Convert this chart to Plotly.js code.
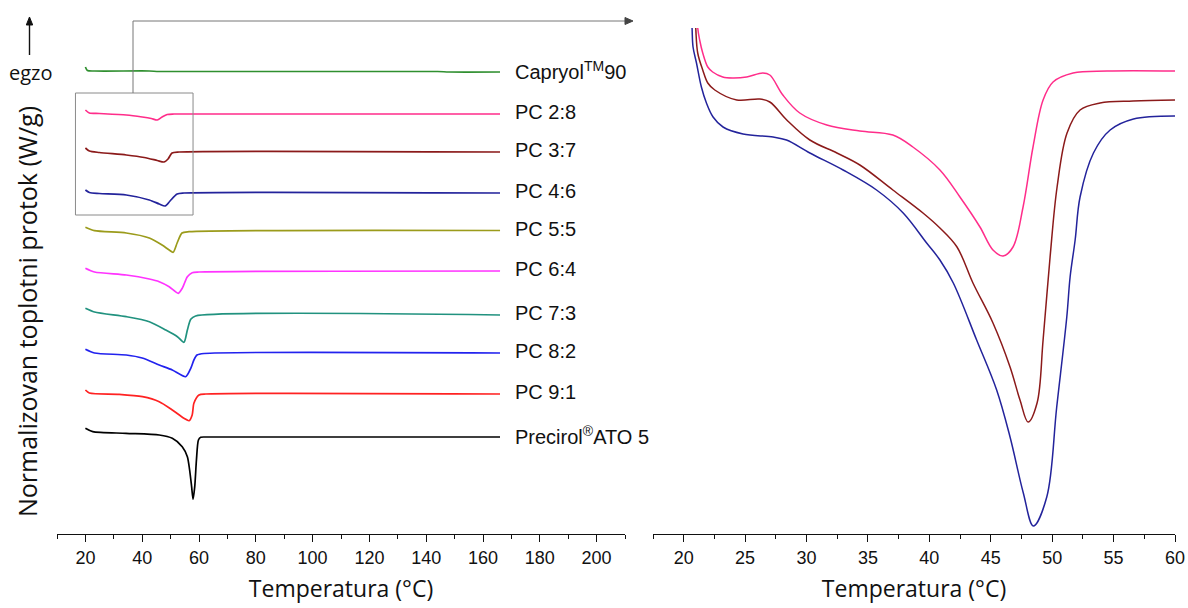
<!DOCTYPE html>
<html>
<head>
<meta charset="utf-8">
<script src="https://cdn.plot.ly/plotly-3.0.1.min.js"></script>
<style>
html,body{margin:0;padding:0;background:#fff;}
#chart{width:1188px;height:608px;}
</style>
</head>
<body>
<div id="chart"></div>
<script>
// ---------- Data (left panel: full DSC curves, stacked) ----------
const sampleNames = ['Capryol<sup>TM</sup>90','PC 2:8','PC 3:7','PC 4:6','PC 5:5','PC 6:4','PC 7:3','PC 8:2','PC 9:1','Precirol<sup>®</sup>ATO 5'];
const sampleColors = ['#2f8f2f','#ff2d8a','#8b1a1a','#23239b','#9b9b1b','#ff33ff','#21927f','#2222ee','#ff2222','#000000'];

const capryolT  = [20, 20.7, 23.2, 42.5, 46, 144, 148, 166];
const capryolHF = [4.67, 4.635, 4.63, 4.63, 4.625, 4.625, 4.62, 4.62];

const pc28T  = [20, 21.4, 24.9, 34.4, 40.0, 43.2, 45.3, 47.0, 48.8, 51.2, 166];
const pc28HF = [4.24, 4.21, 4.205, 4.19, 4.17, 4.155, 4.14, 4.17, 4.195, 4.20, 4.20];

const pc37T  = [20, 21.4, 24.9, 34.4, 40.7, 45.3, 47.7, 49.1, 50.5, 53.0, 166];
const pc37HF = [3.86, 3.83, 3.815, 3.79, 3.765, 3.735, 3.72, 3.75, 3.81, 3.82, 3.82];

const pc46T  = [20, 21.4, 24.9, 34.4, 42.5, 46.0, 48.1, 49.8, 52.3, 54.7, 166];
const pc46HF = [3.44, 3.415, 3.405, 3.39, 3.34, 3.30, 3.28, 3.33, 3.40, 3.41, 3.41];

const pc55T  = [20, 23.2, 34.4, 42.5, 47.0, 49.5, 50.9, 52.3, 54.0, 56.5, 166];
const pc55HF = [3.067, 3.033, 3.01, 2.96, 2.89, 2.84, 2.817, 2.91, 3.01, 3.023, 3.035];

const pc64T  = [20, 23.2, 34.4, 42.5, 46.0, 49.5, 52.7, 54.1, 55.9, 57.6, 60.0, 166];
const pc64HF = [2.657, 2.62, 2.59, 2.55, 2.523, 2.473, 2.407, 2.457, 2.573, 2.613, 2.62, 2.63];

const pc73T  = [20, 23.2, 34.4, 42.5, 48.3, 52.4, 54.7, 55.9, 57.1, 58.8, 166];
const pc73HF = [2.257, 2.22, 2.173, 2.123, 2.04, 1.973, 1.917, 2.04, 2.147, 2.18, 2.19];

const pc82T  = [20, 23.2, 34.4, 40.0, 46.0, 50.6, 55.3, 57.1, 58.2, 59.3, 61.8, 166];
const pc82HF = [1.847, 1.81, 1.79, 1.76, 1.69, 1.64, 1.573, 1.657, 1.74, 1.79, 1.805, 1.81];

const pc91T  = [20, 21.4, 31.9, 40.1, 46.0, 50.6, 54.7, 56.5, 57.6, 58.2, 60.0, 62.4, 166];
const pc91HF = [1.44, 1.41, 1.397, 1.373, 1.323, 1.24, 1.157, 1.133, 1.19, 1.307, 1.39, 1.40, 1.40];

const precirolT  = [20, 22.6, 34.3, 46.0, 50.6, 54.1, 55.9, 56.7, 57.4, 57.9, 58.5, 59.1, 59.8, 60.6, 62.4, 166];
const precirolHF = [1.057, 1.023, 1.007, 0.99, 0.957, 0.873, 0.773, 0.64, 0.473, 0.347, 0.473, 0.74, 0.94, 0.967, 0.97, 0.97];

// ---------- Data (right panel: zoom of PC 2:8, PC 3:7, PC 4:6) ----------
const zoomNames  = ['PC 2:8','PC 3:7','PC 4:6'];
const zoomColors = ['#ff2d8a','#8b1a1a','#23239b'];

const zoomPc28T  = [20.94,21.14,21.30,21.55,21.96,22.36,23.18,23.99,25.13,26.44,27.01,28.07,29.45,31.65,34.34,37.03,38.66,40.86,42.49,44.12,45.18,46.0,46.81,47.63,48.44,49.26,50.07,51.70,54.47,60];
const zoomPc28HF = [0.554,0.506,0.494,0.481,0.467,0.462,0.457,0.456,0.457,0.461,0.459,0.439,0.421,0.409,0.403,0.399,0.387,0.364,0.337,0.307,0.284,0.278,0.287,0.327,0.387,0.434,0.452,0.461,0.463,0.463];

const zoomPc37T  = [20.81,20.98,21.14,21.55,21.96,22.53,24.32,26.19,27.01,28.39,30.27,32.47,34.34,37.03,39.48,40.86,42.25,43.55,45.18,46.57,47.38,48.04,48.77,49.26,49.83,50.40,51.21,52.27,53.90,56.59,60];
const zoomPc37HF = [0.554,0.506,0.481,0.464,0.451,0.444,0.434,0.435,0.432,0.414,0.394,0.381,0.369,0.344,0.321,0.306,0.287,0.251,0.211,0.167,0.134,0.112,0.131,0.194,0.277,0.347,0.401,0.424,0.431,0.433,0.434];

const zoomPc46T  = [20.49,20.68,20.76,21.04,21.44,21.85,22.39,23.20,24.83,27.28,28.37,30.27,32.98,35.70,37.87,39.78,40.86,41.95,43.85,45.48,46.57,47.65,48.47,49.56,50.37,51.19,51.46,51.87,52.27,53.36,54.72,56.62,60];
const zoomPc46HF = [0.554,0.506,0.487,0.471,0.447,0.431,0.417,0.407,0.400,0.397,0.394,0.381,0.364,0.344,0.321,0.291,0.274,0.251,0.194,0.144,0.097,0.041,0.008,0.037,0.127,0.217,0.257,0.294,0.337,0.381,0.404,0.415,0.418];

const leftT  = [capryolT, pc28T, pc37T, pc46T, pc55T, pc64T, pc73T, pc82T, pc91T, precirolT];
const leftHF = [capryolHF, pc28HF, pc37HF, pc46HF, pc55HF, pc64HF, pc73HF, pc82HF, pc91HF, precirolHF];
const zoomT  = [zoomPc28T, zoomPc37T, zoomPc46T];
const zoomHF = [zoomPc28HF, zoomPc37HF, zoomPc46HF];

// ---------- Traces ----------
const traces = [];
leftT.forEach((t, i) => {
  traces.push({x: t, y: leftHF[i], type: 'scatter', mode: 'lines', name: sampleNames[i],
    line: {color: sampleColors[i], width: 1.7, shape: 'spline', smoothing: 0.7},
    xaxis: 'x', yaxis: 'y', showlegend: false, hoverinfo: 'skip'});
});
zoomT.forEach((t, i) => {
  traces.push({x: t, y: zoomHF[i], type: 'scatter', mode: 'lines', name: zoomNames[i],
    line: {color: zoomColors[i], width: 1.5, shape: 'spline', smoothing: 1.0},
    xaxis: 'x2', yaxis: 'y2', showlegend: false, hoverinfo: 'skip'});
});

// ---------- Layout helpers ----------
const W = 1188, H = 608, ML = 57, MR = 13, MT = 28, MB = 74;
const PW = W - ML - MR, PH = H - MT - MB;
const px = v => (v - ML) / PW;          // pixel x -> paper
const py = v => (H - MB - v) / PH;      // pixel y -> paper

const tickFont = {family: 'Liberation Sans, Arial, sans-serif', size: 18, color: '#111'};
const titleFont = {family: 'Open Sans, sans-serif', size: 23, color: '#111'};

const annotations = sampleNames.map((n, i) => ({
  text: n, x: 170.5, y: leftHF[i][leftHF[i].length - 1], xref: 'x', yref: 'y',
  xanchor: 'left', yanchor: 'middle', yshift: 2, showarrow: false,
  font: {family: 'Liberation Sans, Arial, sans-serif', size: 20, color: '#111'}
}));
annotations.push({
  text: 'Normalizovan toplotni protok (W/g)', textangle: -90, xref: 'paper', yref: 'paper',
  x: px(27), y: py(312), xanchor: 'center', yanchor: 'middle', showarrow: false,
  font: {family: 'Open Sans, sans-serif', size: 25, color: '#111'}
});
annotations.push({
  text: 'egzo', xref: 'paper', yref: 'paper', x: px(31), y: py(72),
  xanchor: 'center', yanchor: 'middle', showarrow: false,
  font: {family: 'Open Sans, sans-serif', size: 20, color: '#111'}
});

const P = (x, y) => px(x).toFixed(5) + ',' + py(y).toFixed(5);
const shapes = [
  // zoom window rectangle around the 20-58 °C region of PC 2:8 .. PC 4:6
  {type: 'rect', xref: 'x', yref: 'y', x0: 16.5, x1: 57.9, y0: 3.19, y1: 4.41,
   line: {color: '#8a8a8a', width: 1}},
  // connector from rectangle to the zoom panel
  {type: 'line', xref: 'paper', yref: 'paper', x0: px(133), x1: px(133), y0: py(93), y1: py(21),
   line: {color: '#777', width: 1}},
  {type: 'line', xref: 'paper', yref: 'paper', x0: px(133), x1: px(628), y0: py(21), y1: py(21),
   line: {color: '#777', width: 1}},
  {type: 'path', xref: 'paper', yref: 'paper', path: 'M' + P(625, 17.5) + ' L' + P(633, 21) + ' L' + P(625, 24.5) + ' Z',
   fillcolor: '#444', line: {color: '#444', width: 1}},
  // exo arrow
  {type: 'line', xref: 'paper', yref: 'paper', x0: px(29.5), x1: px(29.5), y0: py(55), y1: py(22),
   line: {color: '#111', width: 1.4}},
  {type: 'path', xref: 'paper', yref: 'paper', path: 'M' + P(26.3, 25) + ' L' + P(29.5, 17) + ' L' + P(32.7, 25) + ' Z',
   fillcolor: '#111', line: {color: '#111', width: 1}}
];

const layout = {
  width: W, height: H,
  margin: {l: ML, r: MR, t: MT, b: MB},
  paper_bgcolor: '#fff', plot_bgcolor: '#fff',
  showlegend: false,
  xaxis: {
    domain: [0, px(625)], range: [10, 210], tick0: 20, dtick: 20,
    ticks: 'outside', ticklen: 7, tickwidth: 1, tickcolor: '#111',
    showline: true, linecolor: '#111', linewidth: 1, showgrid: false, zeroline: false,
    minor: {tick0: 10, dtick: 10, ticks: 'outside', ticklen: 4, tickwidth: 1, tickcolor: '#111'},
    tickfont: tickFont, anchor: 'y',
    title: {text: 'Temperatura (°C)', font: titleFont, standoff: 14}
  },
  yaxis: {domain: [0, 1], range: [0, 5.06], showline: false, showticklabels: false,
    ticks: '', showgrid: false, zeroline: false, anchor: 'x'},
  xaxis2: {
    domain: [px(653), 1], range: [17.5, 60], tick0: 20, dtick: 5,
    ticks: 'outside', ticklen: 7, tickwidth: 1, tickcolor: '#111',
    showline: true, linecolor: '#111', linewidth: 1, showgrid: false, zeroline: false,
    minor: {tick0: 17.5, dtick: 2.5, ticks: 'outside', ticklen: 4, tickwidth: 1, tickcolor: '#111'},
    tickfont: tickFont, anchor: 'y2',
    title: {text: 'Temperatura (°C)', font: titleFont, standoff: 14}
  },
  yaxis2: {domain: [0, 1], range: [0, 0.506], showline: false, showticklabels: false,
    ticks: '', showgrid: false, zeroline: false, anchor: 'x2'},
  annotations: annotations,
  shapes: shapes
};

Plotly.newPlot('chart', traces, layout, {staticPlot: true, displayModeBar: false});
</script>
</body>
</html>
